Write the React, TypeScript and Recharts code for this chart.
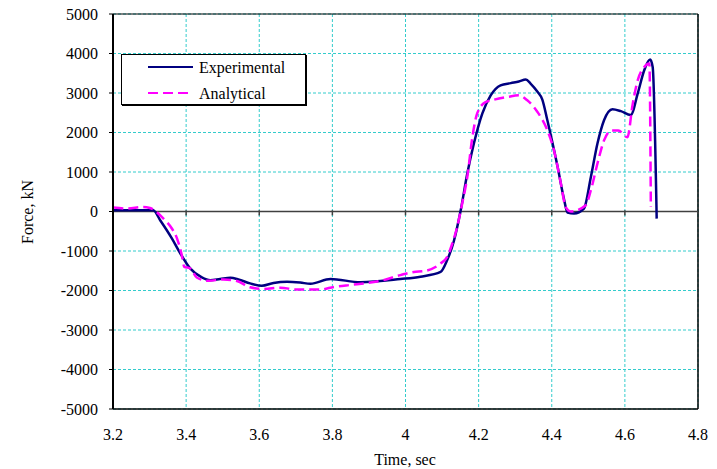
import React from "react";
import {
  CartesianGrid,
  Legend,
  Line,
  LineChart,
  ReferenceLine,
  XAxis,
  YAxis,
} from "recharts";

// time (sec) / force (kN)
const expTime = [
  3.2, 3.31, 3.329, 3.361, 3.384, 3.411, 3.443, 3.466, 3.493, 3.521, 3.543,
  3.575, 3.607, 3.639, 3.676, 3.712, 3.74, 3.795, 3.877, 3.986, 4.041, 4.096,
  4.114, 4.132, 4.151, 4.169, 4.187, 4.21, 4.233, 4.26, 4.288, 4.31, 4.329,
  4.342, 4.361, 4.374, 4.388, 4.416, 4.434, 4.443, 4.461, 4.488, 4.507, 4.525,
  4.543, 4.566, 4.589, 4.616, 4.635, 4.653, 4.669, 4.676, 4.687,
];
const expForce = [
  30, 30, -220, -680, -1060, -1440, -1670, -1740, -1710, -1680, -1720, -1820,
  -1880, -1810, -1780, -1800, -1830, -1710, -1790, -1710, -1650, -1530, -1230,
  -760, 30, 960, 1720, 2480, 2940, 3195, 3250, 3290, 3340, 3240, 3030, 2840,
  2310, 1130, 290, -25, -50, 76, 875, 1720, 2310, 2590, 2540, 2440, 2985, 3575,
  3845, 3660, -180,
];

const anaTime = [
  3.201, 3.238, 3.283, 3.301, 3.338, 3.361, 3.375, 3.388, 3.395, 3.411, 3.429,
  3.461, 3.502, 3.539, 3.575, 3.612, 3.658, 3.703, 3.74, 3.767, 3.804, 3.858,
  3.932, 3.986, 4.023, 4.05, 4.096, 4.114, 4.128, 4.139, 4.155, 4.169, 4.183,
  4.196, 4.219, 4.242, 4.279, 4.31, 4.333, 4.361, 4.388, 4.406, 4.425, 4.438,
  4.452, 4.493, 4.507, 4.525, 4.543, 4.562, 4.582, 4.607, 4.621, 4.635, 4.653,
  4.667, 4.671,
];
const anaForce = [
  100, 75, 115, 90, -180, -430, -680, -1100, -1400, -1440, -1670, -1755, -1720,
  -1760, -1920, -1960, -1930, -1975, -1975, -1975, -1910, -1850, -1755, -1610,
  -1530, -1510, -1315, -1150, -810, -475, 200, 875, 1890, 2480, 2770, 2830,
  2900, 2940, 2815, 2520, 2057, 1550, 710, 115, 0, 160, 540, 1215, 1800, 2050,
  2050, 1880, 2700, 3320, 3660, 3745, 115,
];

const xTicks = [3.2, 3.4, 3.6, 3.8, 4, 4.2, 4.4, 4.6, 4.8];
const yTicks = [-5000, -4000, -3000, -2000, -1000, 0, 1000, 2000, 3000, 4000, 5000];

const expData = expTime.map((t, i) => ({ t, f: expForce[i] }));
const anaData = anaTime.map((t, i) => ({ t, f: anaForce[i] }));

const FONT = "'Liberation Serif', 'Times New Roman', serif";
const tickStyle = { fontFamily: FONT, fontSize: 16, fill: "#000" };

function LegendBox() {
  return (
    <div
      style={{
        width: 185,
        height: 51,
        border: "1px solid #000",
        boxShadow: "1px 1px 0 #000",
        background: "#fff",
        boxSizing: "border-box",
      }}
    >
      <svg width={185} height={51} style={{ display: "block" }}>
        <line x1={26} x2={71} y1={12} y2={12} stroke="#000080" strokeWidth={2} />
        <text x={77} y={12} dominantBaseline="central" style={tickStyle}>
          Experimental
        </text>
        <line
          x1={26}
          x2={71}
          y1={38}
          y2={38}
          stroke="#FF00FF"
          strokeWidth={2}
          strokeDasharray="10 5"
        />
        <text x={77} y={38} dominantBaseline="central" style={tickStyle}>
          Analytical
        </text>
      </svg>
    </div>
  );
}

export default function App() {
  return (
    <div style={{ position: "absolute", left: 0, top: 0 }}>
      <LineChart
        width={717}
        height={469}
        margin={{ top: 14, right: 19, left: 33, bottom: 10 }}
      >
        <CartesianGrid stroke="#33CCCC" strokeDasharray="3 2" />
        <XAxis
          type="number"
          dataKey="t"
          domain={[3.2, 4.8]}
          ticks={xTicks}
          allowDataOverflow
          height={50}
          tickLine={false}
          tickSize={0}
          tickMargin={20}
          axisLine={{ stroke: "#000", strokeWidth: 1.5 }}
          tick={tickStyle}
          tickFormatter={(v: number) => String(Math.round(v * 10) / 10)}
          label={() => (
            <text x={405} y={465} textAnchor="middle" style={tickStyle}>
              Time, sec
            </text>
          )}
        />
        <YAxis
          type="number"
          domain={[-5000, 5000]}
          ticks={yTicks}
          width={80}
          tickSize={4}
          tickMargin={11}
          tickLine={{ stroke: "#000" }}
          axisLine={{ stroke: "#000", strokeWidth: 2 }}
          tick={tickStyle}
          label={() => (
            <text
              x={27}
              y={212}
              transform="rotate(-90 27 212)"
              textAnchor="middle"
              dominantBaseline="central"
              style={tickStyle}
            >
              Force, kN
            </text>
          )}
        />
        <ReferenceLine y={5000} stroke="#000" strokeWidth={1} />
        <ReferenceLine x={4.8} stroke="#000" strokeWidth={1.5} />
        <ReferenceLine y={0} stroke="#404040" strokeWidth={1.5} />
        {xTicks.slice(1, -1).map((t) => (
          <ReferenceLine
            key={t}
            segment={[
              { x: t, y: 30 },
              { x: t, y: -100 },
            ]}
            stroke="#404040"
            strokeWidth={1.5}
          />
        ))}
        <Legend
          layout="horizontal"
          verticalAlign="middle"
          align="center"
          wrapperStyle={{ position: "absolute", left: 121, top: 54, width: 185 }}
          content={() => <LegendBox />}
        />
        <Line
          data={expData}
          dataKey="f"
          name="Experimental"
          type="monotone"
          stroke="#000080"
          strokeWidth={2.5}
          dot={false}
          isAnimationActive={false}
        />
        <Line
          data={anaData}
          dataKey="f"
          name="Analytical"
          type="monotone"
          stroke="#FF00FF"
          strokeWidth={2.5}
          strokeDasharray="10 5"
          dot={false}
          isAnimationActive={false}
        />
      </LineChart>
    </div>
  );
}
